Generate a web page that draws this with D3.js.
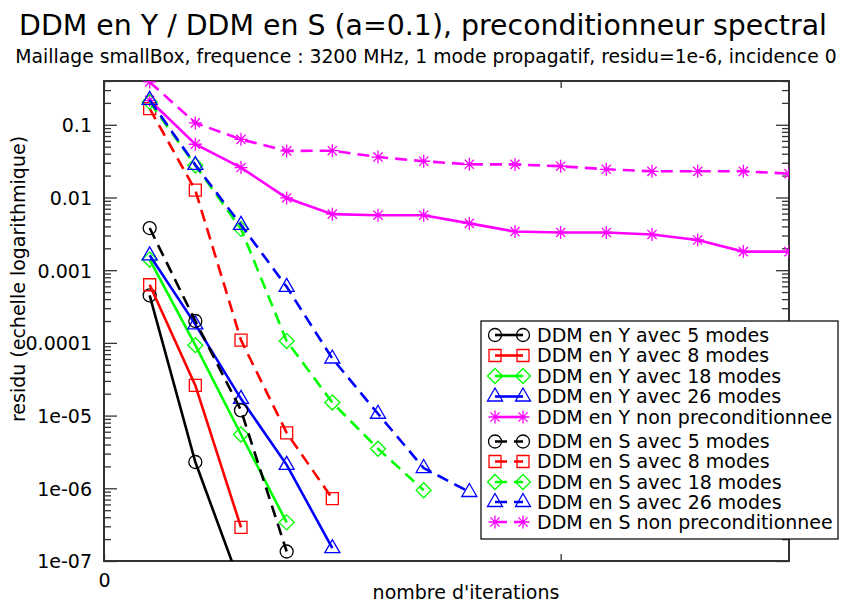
<!DOCTYPE html>
<html><head><meta charset="utf-8">
<script src="https://cdn.jsdelivr.net/npm/d3@7"></script>
<style>
body{margin:0;background:#fff;}
svg{display:block;font-family:"DejaVu Sans",sans-serif;}
</style></head>
<body><svg id="c" width="858" height="605"></svg>
<script>
const titleText = "DDM en Y / DDM en S (a=0.1), preconditionneur spectral";
const subtitleText = "Maillage smallBox, frequence : 3200 MHz, 1 mode propagatif, residu=1e-6, incidence 0";
const xLabel = "nombre d'iterations";
const yLabel = "residu (echelle logarithmique)";
const yTickValues = [0.1, 0.01, 0.001, 0.0001, 1e-5, 1e-6, 1e-7];
const yTickLabels = ["0.1", "0.01", "0.001", "0.0001", "1e-05", "1e-06", "1e-07"];
const xTickValues = [0, 10];
const xTickLabels = ["0", ""];

// residu par iteration (iteration 1, 2, ...)
const yY5   = [4.5e-4, 2.3e-6, 4.5e-8];
const yY8   = [6.3e-4, 2.6e-5, 2.9e-7];
const yY18  = [1.4e-3, 9.3e-5, 5.5e-6, 3.4e-7];
const yY26  = [1.6e-3, 1.8e-4, 1.7e-5, 2.1e-6, 1.5e-7];
const yYnon = [0.217, 0.054, 0.0258, 0.00985, 0.0059, 0.0057, 0.0057, 0.0044, 0.0034, 0.0033, 0.0033, 0.0031, 0.0026, 0.0018, 0.0018];
const yS5   = [3.8e-3, 2.0e-4, 1.18e-5, 1.35e-7];
const yS8   = [0.167, 0.0126, 1.09e-4, 5.8e-6, 7.2e-7];
const yS18  = [0.206, 0.0277, 0.0037, 1.06e-4, 1.51e-5, 3.5e-6, 9.4e-7];
const yS26  = [0.22, 0.028, 0.0042, 5.9e-4, 6.1e-5, 1.06e-5, 1.9e-6, 8.9e-7];
const ySnon = [0.388, 0.106, 0.063, 0.0437, 0.044, 0.036, 0.0315, 0.0286, 0.0285, 0.0269, 0.0244, 0.0229, 0.0229, 0.0229, 0.0213];

const seriesNames = ["DDM en Y avec 5 modes","DDM en Y avec 8 modes","DDM en Y avec 18 modes","DDM en Y avec 26 modes","DDM en Y non preconditionnee",
  "DDM en S avec 5 modes","DDM en S avec 8 modes","DDM en S avec 18 modes","DDM en S avec 26 modes","DDM en S non preconditionnee"];
const seriesValues = [yY5,yY8,yY18,yY26,yYnon,yS5,yS8,yS18,yS26,ySnon];
const seriesColors = ["#000000","#ff0000","#00ff00","#0000ff","#ff00ff","#000000","#ff0000","#00ff00","#0000ff","#ff00ff"];
const seriesMarkers = ["circle","square","diamond","triangle","star","circle","square","diamond","triangle","star"];
const seriesDashed = [false,false,false,false,false,true,true,true,true,true];

const svg = d3.select("#c");
const L = 104, R = 789, T = 81, B = 561;
const x = d3.scaleLinear().domain([0, 15]).range([L, R]);
const y = d3.scaleLog().domain([1e-7, 0.4]).range([B, T]);
const axisColor = "#333";

// titles
svg.append("text").attr("x", 423).attr("y", 35).attr("text-anchor","middle")
  .attr("font-size", 28.4).attr("fill","#000").text(titleText);
svg.append("text").attr("x", 426).attr("y", 63).attr("text-anchor","middle")
  .attr("font-size", 18.8).attr("fill","#000").text(subtitleText);
svg.append("text").attr("x", 466).attr("y", 599).attr("text-anchor","middle")
  .attr("font-size", 19).attr("fill","#000").text(xLabel);
svg.append("text").attr("transform","translate(25,279) rotate(-90)").attr("text-anchor","middle")
  .attr("font-size", 19).attr("fill","#000").text(yLabel);

// minor ticks values
const minor = [];
for (let e = -7; e <= -1; e++) for (let m = 2; m <= 9; m++) { const v = m * Math.pow(10, e); if (v <= 0.4) minor.push(v); }

const gAx = svg.append("g");
const yMajL = d3.axisLeft(y).tickValues(yTickValues).tickSize(-13).tickFormat((d,i)=>yTickLabels[i]).tickPadding(25);
const gl = gAx.append("g").attr("transform",`translate(${L},0)`).call(yMajL);
const yMinL = d3.axisLeft(y).tickValues(minor).tickSize(-7).tickFormat("");
gAx.append("g").attr("transform",`translate(${L},0)`).call(yMinL);
const yMajR = d3.axisRight(y).tickValues(yTickValues).tickSize(-13).tickFormat("");
gAx.append("g").attr("transform",`translate(${R},0)`).call(yMajR);
const yMinR = d3.axisRight(y).tickValues(minor).tickSize(-7).tickFormat("");
gAx.append("g").attr("transform",`translate(${R},0)`).call(yMinR);
const xB = d3.axisBottom(x).tickValues(xTickValues).tickSize(-7).tickFormat((d,i)=>xTickLabels[i]).tickPadding(13);
gAx.append("g").attr("transform",`translate(0,${B})`).call(xB);
const xT = d3.axisTop(x).tickValues(xTickValues).tickSize(-7).tickFormat("");
gAx.append("g").attr("transform",`translate(0,${T})`).call(xT);
gAx.selectAll(".domain").remove();
gAx.selectAll(".tick line").attr("stroke", axisColor).attr("stroke-width", 1.3);
gAx.selectAll(".tick text").attr("font-size", 19).attr("font-family","DejaVu Sans").attr("fill","#000");
gl.selectAll(".tick text").attr("x", -12).attr("dy","0.36em");

// frame
svg.append("rect").attr("x",L).attr("y",T).attr("width",R-L).attr("height",B-T)
  .attr("fill","none").attr("stroke",axisColor).attr("stroke-width",2);

// clip
svg.append("defs").append("clipPath").attr("id","pc").append("rect")
  .attr("x",L).attr("y",T).attr("width",R-L).attr("height",B-T);

function markerPath(type) {
  switch(type) {
    case "circle": return "M6.5,0A6.5,6.5,0,1,1,-6.5,0A6.5,6.5,0,1,1,6.5,0Z";
    case "square": return "M-6,-6H6V6H-6Z";
    case "diamond": return "M0,-7.5L7.5,0L0,7.5L-7.5,0Z";
    case "triangle": return "M0,-8.5L7.5,4.5H-7.5Z";
    case "star": return "M-6.5,0H6.5M0,-6.5V6.5M-4.6,-4.6L4.6,4.6M-4.6,4.6L4.6,-4.6";
  }
}
function drawMarker(g, type, color, cx, cy) {
  g.append("path").attr("d", markerPath(type)).attr("transform",`translate(${cx},${cy})`)
    .attr("fill","none").attr("stroke",color).attr("stroke-width",1.3);
}

const line = d3.line().x((d)=>x(d.i)).y((d)=>y(d.v));
const gData = svg.append("g").attr("clip-path","url(#pc)");
seriesValues.forEach((vals, k) => {
  const pts = vals.map((v, j) => ({i: j + 1, v}));
  gData.append("path").datum(pts).attr("d", line).attr("fill","none")
    .attr("stroke", seriesColors[k]).attr("stroke-width", 2.6)
    .attr("stroke-dasharray", seriesDashed[k] ? "12,7" : null);
  pts.filter(p => p.v >= 1e-7 && p.v <= 0.4).forEach(p => drawMarker(gData, seriesMarkers[k], seriesColors[k], x(p.i), y(p.v)));
});

// legend
const lg = svg.append("g");
lg.append("rect").attr("x",481).attr("y",321).attr("width",357).attr("height",218)
  .attr("fill","#fff").attr("stroke","#111").attr("stroke-width",1.3);
const rowY = [335, 355.5, 376, 396.5, 417, 441.5, 461.5, 482, 502, 522];
seriesNames.forEach((name, k) => {
  const ry = rowY[k];
  lg.append("line").attr("x1",495).attr("x2",523).attr("y1",ry).attr("y2",ry)
    .attr("stroke",seriesColors[k]).attr("stroke-width",2.6)
    .attr("stroke-dasharray", seriesDashed[k] ? "12,7" : null);
  drawMarker(lg, seriesMarkers[k], seriesColors[k], 495, ry);
  drawMarker(lg, seriesMarkers[k], seriesColors[k], 523, ry);
  lg.append("text").attr("x",537).attr("y",ry).attr("dy","0.36em").attr("font-size",19)
    .attr("fill","#000").text(name);
});
</script></body></html>
